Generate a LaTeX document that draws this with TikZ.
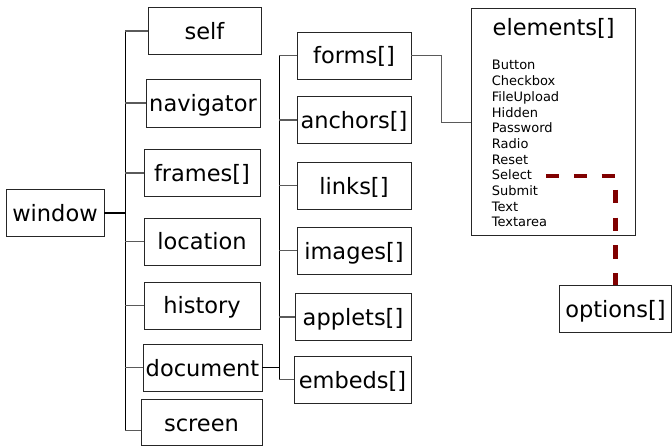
\documentclass[tikz,border=0pt]{standalone}
\usepackage{fontspec}
\setmainfont{DejaVu Sans}
\definecolor{darkred}{RGB}{128,0,0}
\definecolor{conn}{RGB}{90,90,90}
\tikzset{
  box/.style={draw=black!85, line width=0.9pt, inner sep=0pt, text height=17pt, text depth=0pt,
    font=\fontsize{22.5}{27}\selectfont},
  item/.style={inner sep=0pt, anchor=base west, font=\fontsize{13}{15.6}\selectfont},
  branch/.style={draw=conn, line width=1.1pt},
  trunk/.style={draw=black, line width=1.1pt},
  thick link/.style={draw=black, line width=1.7pt},
  optlink/.style={draw=darkred, line width=4.6pt, dash pattern=on 13.4pt off 14.4pt}
}
\begin{document}
\begin{tikzpicture}[x=1pt,y=-1pt]
\useasboundingbox (0,0) rectangle (672,446);
% left column
\node[box, minimum width=98pt, minimum height=47pt] (window) at (55,212.8) {window};
\node[box, minimum width=113pt, minimum height=46.5pt] (self) at (204.5,31) {self};
\node[box, minimum width=114pt, minimum height=48pt] (navigator) at (203,103) {navigator};
\node[box, minimum width=116pt, minimum height=47pt] (frames) at (202,173) {frames[]};
\node[box, minimum width=116pt, minimum height=47pt] (location) at (202,241.5) {location};
\node[box, minimum width=116pt, minimum height=47pt] (history) at (202,305.5) {history};
\node[box, minimum width=119pt, minimum height=47pt] (document) at (202.5,367.5) {document};
\node[box, minimum width=121pt, minimum height=46pt] (screen) at (201.5,422.5) {screen};
% middle column
\node[box, minimum width=114pt, minimum height=47pt] (forms) at (354,55.5) {forms[]};
\node[box, minimum width=114pt, minimum height=46.5pt] (anchors) at (354,120) {anchors[]};
\node[box, minimum width=114pt, minimum height=47pt] (links) at (354,185.7) {links[]};
\node[box, minimum width=114pt, minimum height=47pt] (images) at (354,250.7) {images[]};
\node[box, minimum width=116pt, minimum height=47pt] (applets) at (353,317) {applets[]};
\node[box, minimum width=117pt, minimum height=47pt] (embeds) at (352.5,379.7) {embeds[]};
% elements
\node[box, minimum width=164pt, minimum height=226.7pt] (elements) at (553.7,122.3) {};
\node[inner sep=0pt, anchor=base, font=\fontsize{22.5}{27}\selectfont] (eltitle) at (553.7,36) {elements[]};
\foreach \t [count=\i] in {Button,Checkbox,FileUpload,Hidden,Password,Radio,Reset,Select,Submit,Text,Textarea}
  \node[item] (it\i) at (491.7,{70+15.67*(\i-1)}) {\t};
\node[box, minimum width=112pt, minimum height=46.7pt] (options) at (615.5,309.3) {options[]};
% window tree
\coordinate (t1top) at (125.3,31);
\coordinate (t1bot) at (125.3,430.5);
\draw[trunk] (t1top) -- (t1bot);
\draw[thick link] (window.east) -- (window.east -| t1top);
\foreach \n in {self,navigator,frames,location,history,document}
  \draw[branch] (\n.west -| t1top) -- (\n.west);
\draw[branch] (t1bot) -- (t1bot -| screen.west);
% document tree
\coordinate (t2top) at (279.3,55.5);
\coordinate (t2bot) at (279.3,379.7);
\draw[trunk] (t2top) -- (t2bot);
\draw[thick link] (document.east) -- (document.east -| t2top);
\foreach \n in {forms,anchors,links,images,applets,embeds}
  \draw[branch] (\n.west -| t2top) -- (\n.west);
% forms to elements
\coordinate (fbend) at (441.7,55.5);
\draw[branch] (forms.east) -- (fbend) |- (elements.west);
% select to options
\coordinate (selstart) at (546,176);
\draw[optlink] (selstart) -| (options.north);
\end{tikzpicture}
\end{document}
